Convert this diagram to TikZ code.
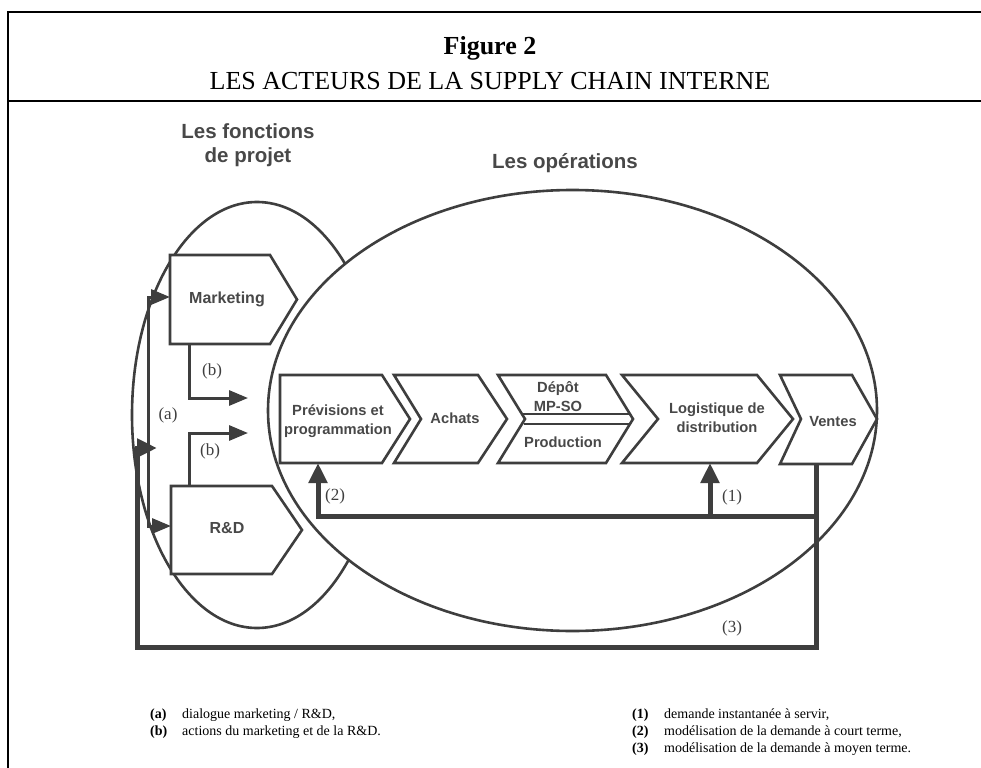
\documentclass[tikz,border=0pt]{standalone}
\usepackage{fontspec}
\setmainfont{Liberation Serif}
\newfontfamily\arialfont{Liberation Sans}
\usetikzlibrary{arrows.meta}
\definecolor{ink}{RGB}{62,62,62}
\definecolor{txtgray}{RGB}{72,72,72}
\tikzset{
  mytip/.tip={Triangle[length=19bp,width=15bp]},
  bigtip/.tip={Triangle[length=20bp,width=18bp]},
  frameline/.style={line width=2bp, draw=black},
  shapebox/.style={draw=ink, line width=2.6bp, fill=white, line join=miter},
  ellline/.style={draw=ink, line width=2.6bp},
  thinflow/.style={draw=ink, line width=3bp},
  thickflow/.style={draw=ink, line width=5bp, -bigtip},
  boxtext/.style={font=\arialfont\bfseries\fontsize{14.7bp}{19bp}\selectfont, text=txtgray, align=center, inner sep=0pt},
  bigboxtext/.style={font=\arialfont\bfseries\fontsize{16bp}{19bp}\selectfont, text=txtgray, align=center, inner sep=0pt},
  hdr/.style={font=\arialfont\bfseries\fontsize{20.5bp}{24bp}\selectfont, text=txtgray, align=center, inner sep=0pt},
  titletext/.style={font=\fontsize{26bp}{30bp}\selectfont, text=black, inner sep=0pt},
  lbl/.style={font=\fontsize{17bp}{20bp}\selectfont, text=ink, inner sep=0pt},
  leg/.style={font=\fontsize{14bp}{17bp}\selectfont, text=black, inner sep=0pt, anchor=base west}
}
\begin{document}
\begin{tikzpicture}[x=1bp,y=-1bp]
\useasboundingbox (0,0) rectangle (981,768);
% frame
\draw[frameline] (981,12) -- (8,12) -- (8,768);
\draw[frameline] (8,101) -- (981,101);
\node[titletext] (fig) at (490,48) {\bfseries Figure 2};
\node[titletext] (title) at (490,81) {LES ACTEURS DE LA SUPPLY CHAIN INTERNE};

% headers
\node[hdr] (hproj) at (248,145) {Les fonctions\\de projet};
\node[hdr] (hops) at (565,163) {Les opérations};

% ellipses
\draw[ellline] (257,415) ellipse [x radius=125bp, y radius=213bp];
\draw[ellline, fill=white] (572.5,410.5) ellipse [x radius=304.5bp, y radius=220.5bp];

% project function boxes
\draw[shapebox] (170,255) -- (270,255) -- (297,299.5) -- (270,344) -- (170,344) -- cycle;
\node[bigboxtext] (mkt) at (227,299) {Marketing};
\draw[shapebox] (171,486) -- (272,486) -- (302,530) -- (272,574) -- (171,574) -- cycle;
\node[bigboxtext] (rd) at (227,528) {R\&D};

% operations chain
\draw[shapebox] (280,375) -- (382,375) -- (410,419) -- (382,463) -- (280,463) -- cycle;
\node[boxtext] (prev) at (338,421) {Prévisions et\\programmation};
\draw[shapebox] (394,375) -- (478,375) -- (507,419) -- (478,463) -- (394,463) -- (421,419) -- cycle;
\node[boxtext] (ach) at (455,418) {Achats};
\draw[shapebox] (498,375) -- (606,375) -- (633,419) -- (606,463) -- (498,463) -- (525,419) -- cycle;
\draw[draw=ink, line width=2.4bp] (523,414) -- (630,414);
\draw[draw=ink, line width=2.4bp] (524,424) -- (630,424);
\node[boxtext] (dep) at (558,397) {Dépôt\\MP-SO};
\node[boxtext] (prod) at (563,442) {Production};
\draw[shapebox] (622,375) -- (757,375) -- (793,419) -- (757,463) -- (622,463) -- (658,419) -- cycle;
\node[boxtext] (log) at (717,418) {Logistique de\\distribution};
\draw[shapebox] (780,375) -- (852,375) -- (877,419) -- (852,464) -- (780,464) -- (801,419) -- cycle;
\node[boxtext] (ven) at (833,422) {Ventes};

% connector end points
\coordinate (mktW) at (170,297);
\coordinate (rdW) at (171,526);
\coordinate (mktB) at (189,344);
\coordinate (rdT) at (189,486);
\coordinate (bTop) at (248,398);
\coordinate (bBot) at (248,433);
\coordinate (aLine) at (148,411);
\coordinate (aIn) at (157,448);
\coordinate (venB) at (816,464);
\coordinate (c3) at (816,647);
\coordinate (fbR) at (818.5,516);
\coordinate (prevB) at (318,463);
\coordinate (fb1) at (710,516);
\coordinate (logB) at (710,463);

% (a) and (b)
\draw[thinflow, mytip-mytip] (mktW) -| (aLine) |- (rdW);
\draw[thinflow, -mytip] (mktB) |- (bTop);
\draw[thinflow, -mytip] (rdT) |- (bBot);

% (1), (2), (3)
\draw[thickflow] (fbR) -| (prevB);
\draw[thickflow] (fb1) -- (logB);
\draw[thickflow] (venB) -- (c3) -| (137,448) -- (aIn);

% labels
\node[lbl] (la) at (168,415) {(a)};
\node[lbl] (lb1) at (212,371) {(b)};
\node[lbl] (lb2) at (210,451) {(b)};
\node[lbl] (l2) at (335,496) {(2)};
\node[lbl] (l1) at (732,497) {(1)};
\node[lbl] (l3) at (732,628) {(3)};

% legend
\node[leg] (ka) at (150,718) {\textbf{(a)}};
\node[leg] (ta) at (182,718) {dialogue marketing / R\&D,};
\node[leg] (kb) at (150,735) {\textbf{(b)}};
\node[leg] (tb) at (182,735) {actions du marketing et de la R\&D.};
\node[leg] (k1) at (632,718) {\textbf{(1)}};
\node[leg] (t1) at (664,718) {demande instantanée à servir,};
\node[leg] (k2) at (632,735) {\textbf{(2)}};
\node[leg] (t2) at (664,735) {modélisation de la demande à court terme,};
\node[leg] (k3) at (632,752) {\textbf{(3)}};
\node[leg] (t3) at (664,752) {modélisation de la demande à moyen terme.};
\end{tikzpicture}
\end{document}
